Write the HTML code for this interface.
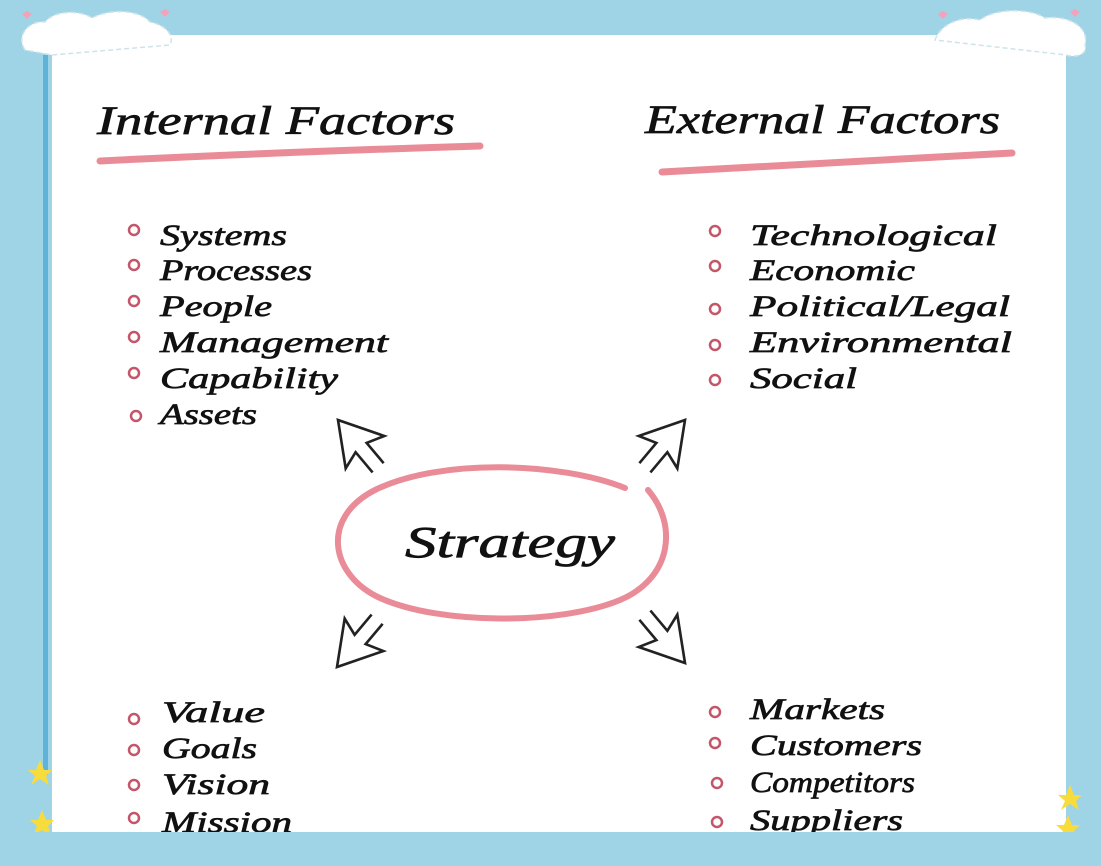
<!DOCTYPE html>
<html><head><meta charset="utf-8">
<style>
html,body{margin:0;padding:0;background:#9fd4e7;}
svg{display:block;}
text{font-family:"Liberation Serif",serif;font-style:italic;fill:#111;stroke:#111;stroke-width:0.7;}
</style></head>
<body>
<svg width="1101" height="866" viewBox="0 0 1101 866" xmlns="http://www.w3.org/2000/svg">
<defs>
<g id="arr" fill="none" stroke="#222" stroke-width="2.2" stroke-linejoin="miter">
  <path d="M-6,52 L-6,30 L-21,35 L0,0 L21,35 L6,30 L6,52"/>
</g>
</defs>
<rect width="1101" height="866" fill="#9fd4e7"/>
<rect x="43" y="55" width="5" height="720" fill="#5fb3d8"/>
<rect x="52" y="35" width="1014" height="797" fill="#ffffff"/>
<g fill="#fff" stroke="#cfe3ea" stroke-width="1.5" stroke-dasharray="5 3">
<path d="M25,50 C15,35 30,20 45,22 C55,10 80,10 92,18 C110,8 140,10 150,22 C165,25 175,35 170,45 L52,55 Z"/>
<path d="M935,40 C940,25 960,15 980,20 C995,8 1030,8 1045,18 C1065,15 1090,25 1085,45 C1088,55 1075,58 1066,55 L935,40 Z"/>
</g>
<g fill="#f2a3b9">
<path d="M22,14 l5,-3 l5,3 l-5,5z"/><path d="M160,12 l5,-3 l5,3 l-5,5z"/>
<path d="M938,14 l5,-3 l5,3 l-5,5z"/><path d="M1070,12 l5,-3 l5,3 l-5,5z"/>
</g>
<g fill="#f7dc3c">
<polygon points="40,760 44,770 52,770 46,776 49,785 40,779 31,785 35,776 28,770 36,770"/>
<polygon points="42,810 46,820 54,820 48,826 51,836 42,830 33,836 37,826 30,820 38,820"/>
<polygon points="1070,785 1074,795 1082,795 1076,801 1079,810 1070,804 1061,810 1065,801 1058,795 1066,795"/>
<polygon points="1068,815 1072,825 1080,825 1074,831 1077,840 1068,834 1059,840 1063,831 1056,825 1064,825"/>
</g>

<text x="97" y="134" font-size="40" textLength="358" lengthAdjust="spacingAndGlyphs">Internal Factors</text>
<path d="M100,161 Q280,152 480,146" stroke="#e98c98" stroke-width="7" fill="none" stroke-linecap="round"/>
<text x="645" y="133" font-size="40" textLength="355" lengthAdjust="spacingAndGlyphs">External Factors</text>
<path d="M662,172 Q840,162 1012,153" stroke="#e98c98" stroke-width="7" fill="none" stroke-linecap="round"/>

<g fill="none" stroke="#c4566a" stroke-width="2.5">
<circle cx="134" cy="230" r="5"/><circle cx="134" cy="265" r="5"/><circle cx="134" cy="301" r="5"/>
<circle cx="134" cy="337" r="5"/><circle cx="134" cy="373" r="5"/><circle cx="136" cy="416" r="5"/>
<circle cx="715" cy="231" r="5"/><circle cx="715" cy="266" r="5"/><circle cx="715" cy="309" r="5"/>
<circle cx="715" cy="345" r="5"/><circle cx="715" cy="380" r="5"/>
<circle cx="134" cy="719" r="5"/><circle cx="134" cy="750" r="5"/><circle cx="134" cy="785" r="5"/><circle cx="134" cy="818" r="5"/>
<circle cx="715" cy="712" r="5"/><circle cx="715" cy="743" r="5"/><circle cx="717" cy="783" r="5"/><circle cx="717" cy="822" r="5"/>
</g>

<g font-size="30">
<text x="160" y="245" textLength="127" lengthAdjust="spacingAndGlyphs">Systems</text>
<text x="160" y="280" textLength="152" lengthAdjust="spacingAndGlyphs">Processes</text>
<text x="160" y="316" textLength="112" lengthAdjust="spacingAndGlyphs">People</text>
<text x="160" y="352" textLength="228" lengthAdjust="spacingAndGlyphs">Management</text>
<text x="160" y="388" textLength="178" lengthAdjust="spacingAndGlyphs">Capability</text>
<text x="160" y="424" textLength="97" lengthAdjust="spacingAndGlyphs">Assets</text>

<text x="750" y="245" textLength="247" lengthAdjust="spacingAndGlyphs">Technological</text>
<text x="750" y="280" textLength="165" lengthAdjust="spacingAndGlyphs">Economic</text>
<text x="750" y="316" textLength="260" lengthAdjust="spacingAndGlyphs">Political/Legal</text>
<text x="750" y="352" textLength="262" lengthAdjust="spacingAndGlyphs">Environmental</text>
<text x="750" y="388" textLength="107" lengthAdjust="spacingAndGlyphs">Social</text>

<text x="162" y="722" textLength="103" lengthAdjust="spacingAndGlyphs">Value</text>
<text x="162" y="758" textLength="95" lengthAdjust="spacingAndGlyphs">Goals</text>
<text x="162" y="794" textLength="108" lengthAdjust="spacingAndGlyphs">Vision</text>
<text x="162" y="832" textLength="130" lengthAdjust="spacingAndGlyphs">Mission</text>

<text x="750" y="719" textLength="135" lengthAdjust="spacingAndGlyphs">Markets</text>
<text x="750" y="755" textLength="172" lengthAdjust="spacingAndGlyphs">Customers</text>
<text x="750" y="792" textLength="165" lengthAdjust="spacingAndGlyphs">Competitors</text>
<text x="750" y="830" textLength="153" lengthAdjust="spacingAndGlyphs">Suppliers</text>
</g>

<path d="M625,488 C560,462 440,458 375,490 C320,518 330,575 380,598 C440,625 560,625 620,600 C672,578 678,525 648,490" fill="none" stroke="#e98c98" stroke-width="6" stroke-linecap="round"/>
<text x="405" y="557" font-size="44" textLength="210" lengthAdjust="spacingAndGlyphs">Strategy</text>

<use href="#arr" transform="translate(338,420) rotate(-40) scale(1.2)"/>
<use href="#arr" transform="translate(685,420) rotate(40) scale(1.2)"/>
<use href="#arr" transform="translate(337,667) rotate(-140) scale(1.2)"/>
<use href="#arr" transform="translate(685,663) rotate(140) scale(1.2)"/>

<rect x="0" y="832" width="1101" height="34" fill="#9fd4e7"/>
</svg>
</body></html>
